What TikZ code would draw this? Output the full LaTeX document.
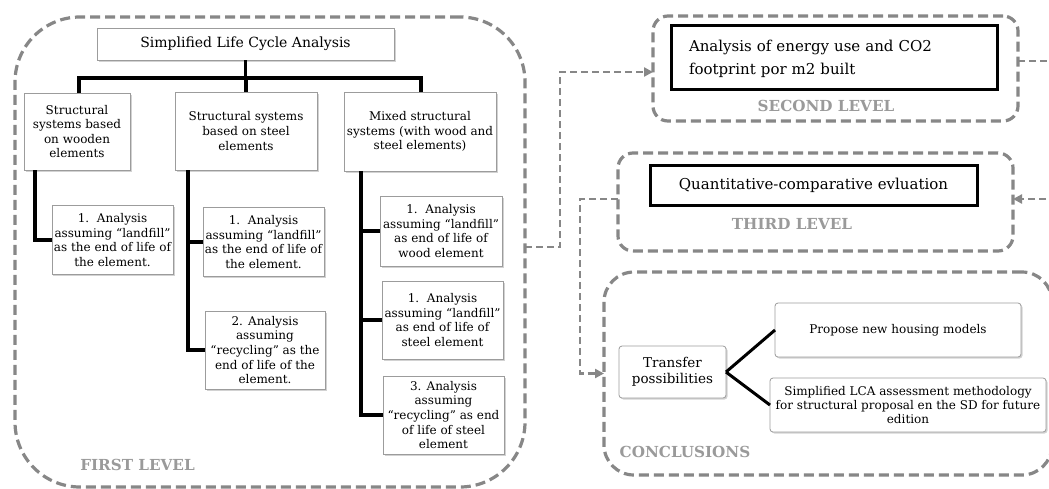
\documentclass[tikz,border=0pt]{standalone}
\usepackage{fontspec}
\setmainfont{DejaVu Serif}
\usetikzlibrary{arrows.meta,shadows}
\definecolor{frame}{HTML}{878787}
\definecolor{lbl}{HTML}{9A9A9A}
\definecolor{bxline}{HTML}{9C9C9C}
\tikzset{
  lvl/.style={draw=frame, line width=3.2pt, dash pattern=on 10pt off 5pt, rounded corners=#1},
  lvltxt/.style={text=lbl, font=\fontsize{15.2}{17}\selectfont\bfseries, inner sep=0pt},
  flbox/.style={draw=bxline, line width=0.8pt, fill=white, align=center, inner sep=2pt, outer sep=0pt,
     font=\fontsize{12}{14.6}\selectfont,
     drop shadow={shadow xshift=1.5pt, shadow yshift=-1.5pt, opacity=0.35, fill=gray}},
  thickbox/.style={draw=black, line width=3pt, fill=white, inner sep=2pt, outer sep=0pt,
     font=\fontsize{15}{23}\selectfont},
  conn/.style={draw=black, line width=3.5pt},
  cconn/.style={draw=black, line width=3pt},
  dconn/.style={draw=frame, line width=2.6pt, dash pattern=on 7pt off 4pt,
     -{Triangle[length=9pt,width=9pt,fill=frame]}},
}
\begin{document}
\begin{tikzpicture}[x=1pt,y=-1pt]
\useasboundingbox (0,0) rectangle (1049,488);
\fill[white] (0,0) rectangle (1049,488);

% ---------- level frames ----------
\node[lvl=65pt, minimum width=510pt, minimum height=470pt, inner sep=0pt, outer sep=0pt] (L1) at (270,252) {};
\node[lvl=15pt, minimum width=365pt, minimum height=105pt, inner sep=0pt, outer sep=0pt] (L2) at (835.5,68.5) {};
\node[lvl=15pt, minimum width=395pt, minimum height=98pt, inner sep=0pt, outer sep=0pt] (L3) at (815.5,202) {};
\node[lvl=30pt, minimum width=448pt, minimum height=203pt, inner sep=0pt, outer sep=0pt] (LC) at (828,373.5) {};

% ---------- first level ----------
\node[flbox, minimum width=297pt, minimum height=32pt, font=\fontsize{14}{16}\selectfont] (top) at (245.5,44) {Simplified Life Cycle Analysis};
\node[flbox, minimum width=106pt, minimum height=77pt] (b1) at (77,131.5) {Structural\\systems based\\on wooden\\elements};
\node[flbox, minimum width=142pt, minimum height=78pt] (b2) at (246,131) {Structural systems\\based on steel\\elements};
\node[flbox, minimum width=152pt, minimum height=79pt] (b3) at (420,131.5) {Mixed structural\\systems (with wood and\\steel elements)};

\node[flbox, minimum width=121pt, minimum height=69pt] (s1) at (112.5,240) {1.~~Analysis\\assuming ``landfill''\\as the end of life of\\the element.};
\node[flbox, minimum width=121pt, minimum height=69pt] (s2a) at (263.5,242) {1.~~Analysis\\assuming ``landfill''\\as the end of life of\\the element.};
\node[flbox, minimum width=120pt, minimum height=78pt] (s2b) at (265,350) {2. Analysis\\assuming\\``recycling'' as the\\end of life of the\\element.};
\node[flbox, minimum width=122pt, minimum height=70pt] (s3a) at (441,231) {1.~~Analysis\\assuming ``landfill''\\as end of life of\\wood element};
\node[flbox, minimum width=121pt, minimum height=78pt] (s3b) at (442.5,320) {1.~~Analysis\\assuming ``landfill''\\as end of life of\\steel element};
\node[flbox, minimum width=121pt, minimum height=78pt] (s3c) at (443.5,415) {3. Analysis\\assuming\\``recycling'' as end\\of life of steel\\element};

\node[lvltxt] (t1) at (137.5,465) {FIRST LEVEL};

\coordinate (barL) at (79,78);
\coordinate (barR) at (421,78);
\coordinate (v1) at (35,170);
\coordinate (v2) at (188,170);
\coordinate (v3) at (361,171);

\draw[conn] (top.south) -- (top.south |- barL);
\draw[conn] (b1.north -| barL) -- (barL) -- (barR) -- (b3.north -| barR);
\draw[conn] (b2.north) -- (b2.north |- barL);
\draw[conn] (v1) |- (s1.west);
\draw[conn] (v2) |- (s2b.west);
\draw[conn] (v2 |- s2a.west) -- (s2a.west);
\draw[conn] (v3) |- (s3c.west);
\draw[conn] (v3 |- s3a.west) -- (s3a.west);
\draw[conn] (v3 |- s3b.west) -- (s3b.west);

% ---------- second level ----------
\node[thickbox, minimum width=326pt, minimum height=64pt, text width=290pt, align=left] (e2) at (834,57) {\rule{0pt}{15.5pt}Analysis of energy use and CO2\\footprint por m2 built};
\node[lvltxt] (t2) at (826,106) {SECOND LEVEL};

% ---------- third level ----------
\node[thickbox, minimum width=327pt, minimum height=40pt, align=center] (e3) at (813.5,185) {Quantitative-comparative evluation};
\node[lvltxt] (t3) at (792,224) {THIRD LEVEL};

% ---------- conclusions ----------
\node[flbox, rounded corners=3pt, minimum width=107pt, minimum height=52pt, font=\fontsize{13.5}{15.5}\selectfont] (tp) at (672.5,372) {Transfer\\possibilities};
\node[flbox, rounded corners=3pt, minimum width=246pt, minimum height=54pt] (pm) at (898,330) {Propose new housing models};
\node[flbox, rounded corners=3pt, minimum width=276pt, minimum height=54pt, font=\fontsize{12}{14}\selectfont] (sl) at (908,405) {Simplified LCA assessment methodology\\for structural proposal en the SD for future\\edition};
\node[lvltxt] (tc) at (685,452) {CONCLUSIONS};

\draw[cconn] (tp.east) -- (pm.west);
\draw[cconn] (tp.east) -- (sl.west);

% ---------- dashed connectors ----------
\draw[dconn] ([yshift=5pt]L1.east) -- ++(35,0) |- ([yshift=-3.5pt]L2.west);
\draw[dconn] ([yshift=7.5pt]L2.east) -- ++(44,0) |- ([yshift=3pt]L3.east);
\draw[dconn] ([yshift=3pt]L3.west) -- ++(-38,0) |- (LC.west);
\end{tikzpicture}
\end{document}
